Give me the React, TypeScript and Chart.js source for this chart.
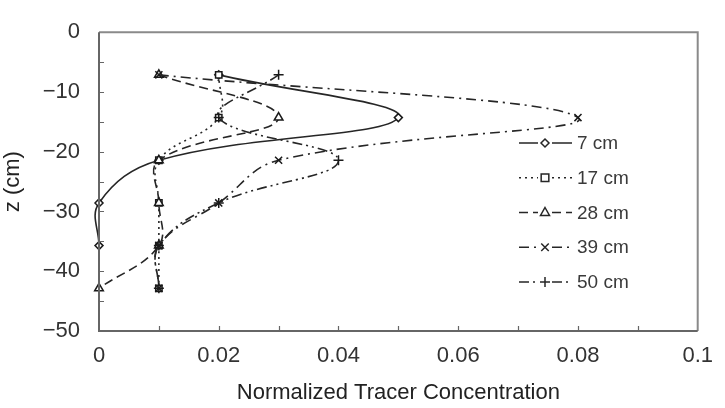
import React, { useEffect, useRef } from "react";
import { Chart, registerables } from "chart.js";

Chart.register(...registerables);

// ---- data ----
const depths = [-7.14, -14.29, -21.43, -28.57, -35.71, -42.86];
const seriesLabels = ["7 cm", "17 cm", "28 cm", "39 cm", "50 cm"];
const c7: (number | null)[] = [0.02, 0.05, 0.01, 0, 0, null];
const c17: (number | null)[] = [0.02, 0.02, 0.01, 0.01, 0.01, 0.01];
const c28: (number | null)[] = [0.01, 0.03, 0.01, 0.01, 0.01, 0];
const c39: (number | null)[] = [0.01, 0.08, 0.03, 0.02, 0.01, 0.01];
const c50: (number | null)[] = [0.03, 0.02, 0.04, 0.02, 0.01, 0.01];
const xMinorTicks = [0.01, 0.02, 0.03, 0.04, 0.05, 0.06, 0.07, 0.08, 0.09];
const yMinorTicks = [-5, -10, -15, -20, -25, -30, -35, -40, -45];

const FONT = "'Liberation Sans', Arial, sans-serif";
const LINE = "#262626";

const styles = [
  { dash: [] as number[], pointStyle: "rectRot", radius: 4 },
  { dash: [2, 4], pointStyle: "rect", radius: 4.5 },
  { dash: [9, 5], pointStyle: "triangle", radius: 5 },
  { dash: [10, 5, 2, 5], pointStyle: "crossRot", radius: 5 },
  { dash: [10, 4, 2, 4, 2, 4], pointStyle: "cross", radius: 5 },
];

const allSeries = [c7, c17, c28, c39, c50];

function toPoints(values: (number | null)[]) {
  const pts: { x: number; y: number }[] = [];
  values.forEach((v, i) => {
    if (v !== null) pts.push({ x: v, y: depths[i] });
  });
  return pts;
}

function drawMarker(ctx: CanvasRenderingContext2D, style: string, r: number, x: number, y: number) {
  ctx.beginPath();
  if (style === "rectRot") {
    ctx.moveTo(x, y - r);
    ctx.lineTo(x + r, y);
    ctx.lineTo(x, y + r);
    ctx.lineTo(x - r, y);
    ctx.closePath();
    ctx.fill();
    ctx.stroke();
  } else if (style === "rect") {
    const s = r * 0.85;
    ctx.rect(x - s, y - s, 2 * s, 2 * s);
    ctx.fill();
    ctx.stroke();
  } else if (style === "triangle") {
    ctx.moveTo(x, y - r);
    ctx.lineTo(x + r * 0.9, y + r * 0.6);
    ctx.lineTo(x - r * 0.9, y + r * 0.6);
    ctx.closePath();
    ctx.fill();
    ctx.stroke();
  } else if (style === "crossRot") {
    const s = r * 0.75;
    ctx.moveTo(x - s, y - s);
    ctx.lineTo(x + s, y + s);
    ctx.moveTo(x + s, y - s);
    ctx.lineTo(x - s, y + s);
    ctx.stroke();
  } else {
    ctx.moveTo(x, y - r);
    ctx.lineTo(x, y + r);
    ctx.moveTo(x - r, y);
    ctx.lineTo(x + r, y);
    ctx.stroke();
  }
}

const framePlugin = {
  id: "frameTicks",
  afterDatasetsDraw(chart: any) {
    const { ctx, chartArea: a, scales } = chart;
    const xs = scales.x;
    const ys = scales.y;
    ctx.save();
    ctx.setLineDash([]);
    ctx.strokeStyle = "#8a8a8a";
    ctx.lineWidth = 2;
    ctx.beginPath();
    ctx.moveTo(a.left, a.top);
    ctx.lineTo(a.right, a.top);
    ctx.lineTo(a.right, a.bottom);
    ctx.stroke();
    ctx.strokeStyle = "#666";
    ctx.beginPath();
    ctx.moveTo(a.left, a.top);
    ctx.lineTo(a.left, a.bottom);
    ctx.lineTo(a.right, a.bottom);
    ctx.stroke();
    ctx.lineWidth = 1.2;
    ctx.beginPath();
    xMinorTicks.forEach((v) => {
      const px = Math.round(xs.getPixelForValue(v)) + 0.5;
      ctx.moveTo(px, a.bottom);
      ctx.lineTo(px, a.bottom - 5);
    });
    yMinorTicks.forEach((v) => {
      const py = Math.round(ys.getPixelForValue(v)) + 0.5;
      ctx.moveTo(a.left, py);
      ctx.lineTo(a.left + 5, py);
    });
    ctx.stroke();
    ctx.restore();
  },
  afterDraw(chart: any) {
    const { ctx } = chart;
    ctx.save();
    const x0 = 519;
    const x1 = 572;
    const xm = 545;
    const tx = 577;
    const y0 = 143;
    const dy = 34.75;
    chart.data.datasets.forEach((ds: any, i: number) => {
      const y = y0 + i * dy;
      ctx.strokeStyle = LINE;
      ctx.lineWidth = 1.6;
      ctx.setLineDash(ds.borderDash || []);
      ctx.beginPath();
      ctx.moveTo(x0, y);
      ctx.lineTo(xm - 7, y);
      ctx.moveTo(xm + 7, y);
      ctx.lineTo(x1, y);
      ctx.stroke();
      ctx.setLineDash([]);
      ctx.fillStyle = "#ffffff";
      ctx.strokeStyle = LINE;
      ctx.lineWidth = 1.5;
      drawMarker(ctx, ds.pointStyle, ds.pointRadius, xm, y);
      ctx.fillStyle = "#3a3a3a";
      ctx.font = `19px ${FONT}`;
      ctx.textAlign = "left";
      ctx.textBaseline = "middle";
      ctx.fillText(ds.label, tx, y + 1);
    });
    ctx.restore();
  },
};

export default function App() {
  const ref = useRef<HTMLCanvasElement | null>(null);

  useEffect(() => {
    if (!ref.current) return;
    const datasets = allSeries.map((vals, i) => ({
      label: seriesLabels[i],
      data: toPoints(vals),
      showLine: true,
      order: 4 - i,
      borderColor: LINE,
      borderWidth: 1.6,
      borderDash: styles[i].dash,
      tension: 0.4,
      pointStyle: styles[i].pointStyle,
      pointRadius: styles[i].radius,
      pointBorderWidth: 1.5,
      pointBorderColor: "#1a1a1a",
      pointBackgroundColor: "#ffffff",
      clip: false as any,
    }));

    const chart = new Chart(ref.current, {
      type: "scatter",
      data: { datasets },
      plugins: [framePlugin],
      options: {
        animation: false,
        responsive: false,
        maintainAspectRatio: false,
        layout: { padding: { left: 0, top: 14, right: 20, bottom: 0 } },
        plugins: { legend: { display: false }, tooltip: { enabled: false } },
        elements: { line: { capBezierPoints: false } },
        scales: {
          x: {
            type: "linear",
            min: 0,
            max: 0.1,
            afterFit: (s: any) => {
              s.height = 77;
            },
            ticks: {
              stepSize: 0.02,
              padding: 12,
              color: "#333",
              font: { family: FONT, size: 22 },
              callback: (v: any) => String(Number(Number(v).toFixed(2))),
            },
            grid: { display: false, drawTicks: false },
            border: { display: false },
            title: {
              display: true,
              text: "Normalized Tracer Concentration",
              color: "#222",
              font: { family: FONT, size: 22 },
              padding: { top: 0, bottom: 2 },
            },
          },
          y: {
            type: "linear",
            min: -50,
            max: 0,
            afterFit: (s: any) => {
              s.width = 99;
            },
            ticks: {
              stepSize: 10,
              padding: 19,
              color: "#333",
              font: { family: FONT, size: 22 },
              callback: (v: any) => {
                const n = Number(v);
                return n < 0 ? "\u2212" + Math.abs(n) : String(n);
              },
            },
            grid: { display: false, drawTicks: false },
            border: { display: false },
            title: {
              display: true,
              text: "z (cm)",
              color: "#222",
              font: { family: FONT, size: 22 },
              padding: { top: 0, bottom: 0 },
            },
          },
        },
      },
    });
    return () => chart.destroy();
  }, []);

  return (
    <div style={{ position: "fixed", left: 0, top: 0, width: 725, height: 408, background: "#fff" }}>
      <canvas ref={ref} width={725} height={408} style={{ width: 725, height: 408, display: "block" }} />
    </div>
  );
}
